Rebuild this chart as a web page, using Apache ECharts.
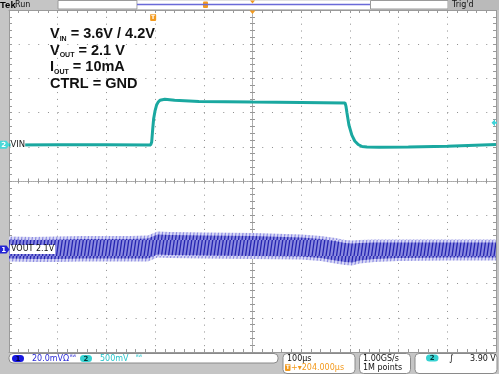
<!DOCTYPE html>
<html><head><meta charset="utf-8">
<script src="https://cdn.jsdelivr.net/npm/echarts@6/dist/echarts.min.js"></script>
<style>html,body{margin:0;padding:0;background:#c5c5c5;}#c{width:499px;height:374px;}</style>
</head><body><div id="c"></div>
<script>
// ---- scope settings (axes) ----
const TIME_MIN = 0, TIME_MAX = 1000;      // µs, 100 µs/div, 10 div
const VIN_MIN = 0.55, VIN_MAX = 5.55;     // V, 500 mV/div
const VOUT_MIN = 2.04, VOUT_MAX = 2.24;   // V, 20 mV/div
const VOUT_OFFSET = 2.1;
const VIN_MARK = 3.58;
const TRIG_LEVEL = 3.9;
const TRIG_T = 296;

// ---- channel 2 : VIN (time µs, volts) ----
const VIN_T = [0, 100, 200, 291, 293, 295, 297, 300, 303, 306, 310, 320, 340, 390, 500, 600, 690, 692, 694, 698, 704, 710, 717, 725, 735, 760, 820, 900, 1000];
const VIN_V = [3.578, 3.579, 3.579, 3.578, 3.62, 3.80, 3.96, 4.08, 4.16, 4.20, 4.23, 4.245, 4.232, 4.214, 4.205, 4.198, 4.19, 4.14, 4.044, 3.869, 3.72, 3.635, 3.584, 3.554, 3.547, 3.545, 3.548, 3.558, 3.585];

// ---- channel 1 : VOUT ripple envelope (time µs, volts) ----
const VOUT_T =     [0, 50, 100, 150, 200, 250, 285, 295, 305, 330, 400, 500, 600, 640, 670, 690, 705, 720, 750, 800, 900, 1000];
const VOUT_UPPER = [2.1061, 2.1058, 2.1061, 2.1064, 2.1064, 2.1064, 2.1067, 2.1078, 2.1090, 2.1087, 2.1084, 2.1081, 2.1073, 2.1064, 2.1052, 2.1040, 2.1037, 2.1040, 2.1043, 2.1043, 2.1043, 2.1043];
const VOUT_LOWER = [2.0944, 2.0941, 2.0941, 2.0944, 2.0944, 2.0944, 2.0944, 2.0956, 2.0967, 2.0964, 2.0961, 2.0958, 2.0956, 2.0947, 2.0932, 2.0923, 2.0920, 2.0932, 2.0941, 2.0947, 2.0950, 2.0950];

// ---- texts ----
const NOTE_LINES = ['{m|V}{s|IN}{m| = 3.6V / 4.2V}', '{m|V}{s|OUT}{m| = 2.1 V}', '{m|I}{s|OUT}{m| = 10mA}', '{m|CTRL = GND}'];
const CH1_LABEL = 'VOUT 2.1V', CH2_LABEL = 'VIN';
const CH1_SCALE = '20.0mVΩ', CH2_SCALE = '500mV', BW = 'ᴮᵂ';
const TIMEBASE = '100µs', POSITION = '+▾204.000µs', RATE = '1.00GS/s', RECORD = '1M points', TRIG_TXT = '3.90 V';

function stripes(bg, fg, w) {
  const c = document.createElement('canvas'); c.width = 7; c.height = 16;
  const g = c.getContext('2d');
  g.fillStyle = bg; g.fillRect(0, 0, 7, 16);
  g.strokeStyle = fg; g.lineWidth = w;
  g.beginPath(); g.moveTo(0.5, 16); g.lineTo(2.8, 0); g.moveTo(4, 16); g.lineTo(6.3, 0); g.stroke();
  return { type: 'pattern', image: c, repeat: 'repeat' };
}
const PAT_CORE = stripes('#8a8ae0', '#2424b0', 1.3);
const PAT_HALO = stripes('#dadaf6', '#8c8ce2', 1.2);

const GRIDC = '#8e8e8e', BORDER = '#9a9a9a';
function borderX(position, split) {
  return { type: 'value', min: -5, max: 5, interval: 1, position,
    axisLine: { show: true, onZero: false, lineStyle: { color: BORDER, width: 1 } },
    axisTick: { show: true, inside: true, length: 3, lineStyle: { color: BORDER } },
    minorTick: { show: true, splitNumber: 5, length: 3, lineStyle: { color: BORDER } },
    axisLabel: { show: false },
    splitLine: { show: split, lineStyle: { color: GRIDC, type: [1, 5.84], width: 1 } } };
}
function borderY(position, split) {
  return { type: 'value', min: -5, max: 5, interval: 1, position,
    axisLine: { show: true, onZero: false, lineStyle: { color: BORDER, width: 1 } },
    axisTick: { show: true, inside: true, length: 3, lineStyle: { color: BORDER } },
    minorTick: { show: true, splitNumber: 5, length: 3, lineStyle: { color: BORDER } },
    axisLabel: { show: false },
    splitLine: { show: split, lineStyle: { color: GRIDC, type: [1, 8.74], width: 1 } } };
}
function centerAxis(pos, inside) {
  return { type: 'value', min: -5, max: 5, interval: 1, position: pos,
    axisLine: { show: true, onZero: true, onZeroAxisIndex: 0, lineStyle: { color: '#a8a8a8', width: 1, type: [1, 1] } },
    axisTick: { show: true, inside, length: 2.5, lineStyle: { color: '#969696' } },
    minorTick: { show: true, splitNumber: 5, length: 2.5, lineStyle: { color: '#969696' } },
    axisLabel: { show: false }, splitLine: { show: false } };
}

const chart = echarts.init(document.getElementById('c'), null, { renderer: 'canvas', width: 499, height: 374 });
const option = {
  animation: false,
  backgroundColor: '#c5c5c5',
  grid: { left: 9, top: 10, width: 487, height: 342, show: true, backgroundColor: '#ffffff', borderWidth: 0 },
  xAxis: [borderX('bottom', true), borderX('top', false), centerAxis('bottom', true), centerAxis('bottom', false),
    { type: 'value', min: TIME_MIN, max: TIME_MAX, show: false }],
  yAxis: [borderY('left', true), borderY('right', false), centerAxis('left', true), centerAxis('left', false),
    { type: 'value', min: VIN_MIN, max: VIN_MAX, show: false },
    { type: 'value', min: VOUT_MIN, max: VOUT_MAX, show: false }],
  series: [
    { type: 'custom', name: 'VOUT', coordinateSystem: 'cartesian2d', xAxisIndex: 4, yAxisIndex: 5, silent: true, z: 5,
      data: VOUT_T.map((t, i) => [t, VOUT_UPPER[i], VOUT_LOWER[i]]),
      encode: { x: 0, y: [1, 2] },
      renderItem: function (params, api) {
        if (params.dataIndex !== 0) return null;
        const up = VOUT_T.map((t, i) => api.coord([t, VOUT_UPPER[i]]));
        const lo = VOUT_T.map((t, i) => api.coord([t, VOUT_LOWER[i]]));
        const halo = up.map(p => [p[0], p[1] - 2.5]).concat(lo.slice().reverse().map(p => [p[0], p[1] + 2.5]));
        const band = up.map(p => [p[0], p[1] + 0.5]).concat(lo.slice().reverse().map(p => [p[0], p[1] - 0.5]));
        return { type: 'group', children: [
          { type: 'polygon', shape: { points: halo }, style: { fill: PAT_HALO } },
          { type: 'polygon', shape: { points: band }, style: { fill: PAT_CORE } }
        ] };
      } },
    { type: 'line', name: 'VIN', xAxisIndex: 4, yAxisIndex: 4, symbol: 'none', z: 6, silent: true,
      data: VIN_T.map((t, i) => [t, VIN_V[i]]),
      lineStyle: { color: '#1aa8a0', width: 3 } }
  ]
};
chart.setOption(option);

const yCh1 = chart.convertToPixel({ yAxisIndex: 5 }, VOUT_OFFSET);
const yCh2 = chart.convertToPixel({ yAxisIndex: 4 }, VIN_MARK);
const yTrig = chart.convertToPixel({ yAxisIndex: 4 }, TRIG_LEVEL);
const xTrig = chart.convertToPixel({ xAxisIndex: 4 }, TRIG_T);
const xMid = chart.convertToPixel({ xAxisIndex: 4 }, (TIME_MIN + TIME_MAX) / 2);

function T(x, y, text, font, fill, extra) {
  return { type: 'text', x, y, z: 100, silent: true, style: Object.assign({ text, font, fill, align: 'left', verticalAlign: 'middle' }, extra || {}) };
}
function R(x, y, w, h, fill, stroke, r) {
  return { type: 'rect', z: 90, silent: true, shape: { x, y, width: w, height: h, r: r || 0 }, style: { fill, stroke: stroke || null, lineWidth: 1 } };
}
function P(points, fill) { return { type: 'polygon', z: 95, silent: true, shape: { points }, style: { fill } }; }
const F8 = '8px "DejaVu Sans"';
const ORANGE = '#f39a1e';

const graphic = [
  // top bar
  T(0, 5, 'Tek', 'bold 9.5px "Liberation Sans"', '#000'),
  T(15, 5, 'Run', F8, '#111'),
  R(58, 0.5, 79, 8.5, '#fff', '#9a9a9a'),
  R(137.5, 0.5, 233, 8.5, '#fff', null),
  { type: 'line', z: 95, silent: true, shape: { x1: 137, y1: 4.5, x2: 370, y2: 4.5 }, style: { stroke: '#6a6ad8', lineWidth: 1.5 } },
  R(203, 1.5, 5, 6.5, ORANGE, null, 1),
  P([[250, 0.5], [255, 0.5], [252.5, 3.5]], ORANGE),
  R(370.5, 0.5, 77.5, 8.5, '#fff', '#9a9a9a'),
  R(448, 0, 51, 10, '#bababa', null),
  T(452, 5, "Trig'd", F8, '#111'),
  // plot markers
  R(xTrig - 3, 14, 6, 7, ORANGE, null, 1),
  T(xTrig, 17.7, 'T', 'bold 6px "DejaVu Sans"', '#fff', { align: 'center' }),
  P([[xMid - 3, 10.5], [xMid + 3, 10.5], [xMid, 14]], ORANGE),
  P([[0, yCh2 - 4], [6.5, yCh2 - 4], [9.5, yCh2], [6.5, yCh2 + 4], [0, yCh2 + 4]], '#48d8d8'),
  T(3.8, yCh2 + 0.3, '2', 'bold 7px "DejaVu Sans"', '#ffffff', { align: 'center' }),
  T(10.5, yCh2, CH2_LABEL, '8.5px "DejaVu Sans"', '#222', { backgroundColor: '#fff', padding: [0, 0, 0, 0] }),
  P([[0, yCh1 - 4], [6.5, yCh1 - 4], [9.5, yCh1], [6.5, yCh1 + 4], [0, yCh1 + 4]], '#2424d4'),
  T(3.8, yCh1 + 0.3, '1', 'bold 7px "DejaVu Sans"', '#ffffff', { align: 'center' }),
  T(10, yCh1, CH1_LABEL, F8, '#111', { backgroundColor: '#fff', padding: [1, 1, 0, 1] }),
  P([[491.5, yTrig], [495, yTrig - 3.5], [495, yTrig - 1], [497, yTrig - 1], [497, yTrig + 1], [495, yTrig + 1], [495, yTrig + 3.5]], '#3cd2d8'),
  // annotation
  { type: 'text', x: 50, y: 25.2, z: 100, silent: true, style: { text: NOTE_LINES.join('\n'), align: 'left', verticalAlign: 'top', fill: '#111',
      rich: { m: { font: 'bold 14.5px "Liberation Sans"', lineHeight: 16.9, fill: '#111' },
              s: { font: 'bold 7px "Liberation Sans"', lineHeight: 10, verticalAlign: 'bottom', fill: '#111' } } } },
  // bottom status bar
  R(9, 353.5, 269, 9.5, '#fff', '#8a8a8a', 4),
  R(12, 355, 12, 7, '#1818e0', null, 3.5),
  T(18, 358.7, '1', 'bold 7px "DejaVu Sans"', '#000044', { align: 'center' }),
  T(32, 358.5, CH1_SCALE, F8, '#2a2ad6'),
  T(70, 357.5, BW, '6px "DejaVu Sans"', '#2a2ad6'),
  R(80, 355, 12, 7, '#36d2d2', null, 3.5),
  T(86, 358.7, '2', 'bold 7px "DejaVu Sans"', '#003838', { align: 'center' }),
  T(100, 358.5, CH2_SCALE, F8, '#26c4ca'),
  T(136, 357.5, BW, '6px "DejaVu Sans"', '#26c4ca'),
  R(283, 353.5, 72, 20, '#fff', '#8a8a8a', 4),
  T(287, 358.5, TIMEBASE, F8, '#111'),
  R(285, 364, 5.5, 7, ORANGE, null, 1),
  T(287.8, 367.7, 'T', 'bold 6px "DejaVu Sans"', '#fff', { align: 'center' }),
  T(291, 368, POSITION, F8, ORANGE),
  R(359.5, 353.5, 51, 20, '#fff', '#8a8a8a', 4),
  T(363, 358.5, RATE, F8, '#111'),
  T(363, 368, RECORD, F8, '#111'),
  R(415, 353.5, 82, 20, '#fff', '#8a8a8a', 4),
  R(426, 354.5, 12.5, 7, '#36d2d2', null, 3.5),
  T(432.2, 358.2, '2', 'bold 7px "DejaVu Sans"', '#003838', { align: 'center' }),
  T(449, 358.5, '∫', 'italic 9px "DejaVu Sans"', '#111'),
  T(470, 358.5, TRIG_TXT, F8, '#111')
];
chart.setOption({ graphic });
</script></body></html>
